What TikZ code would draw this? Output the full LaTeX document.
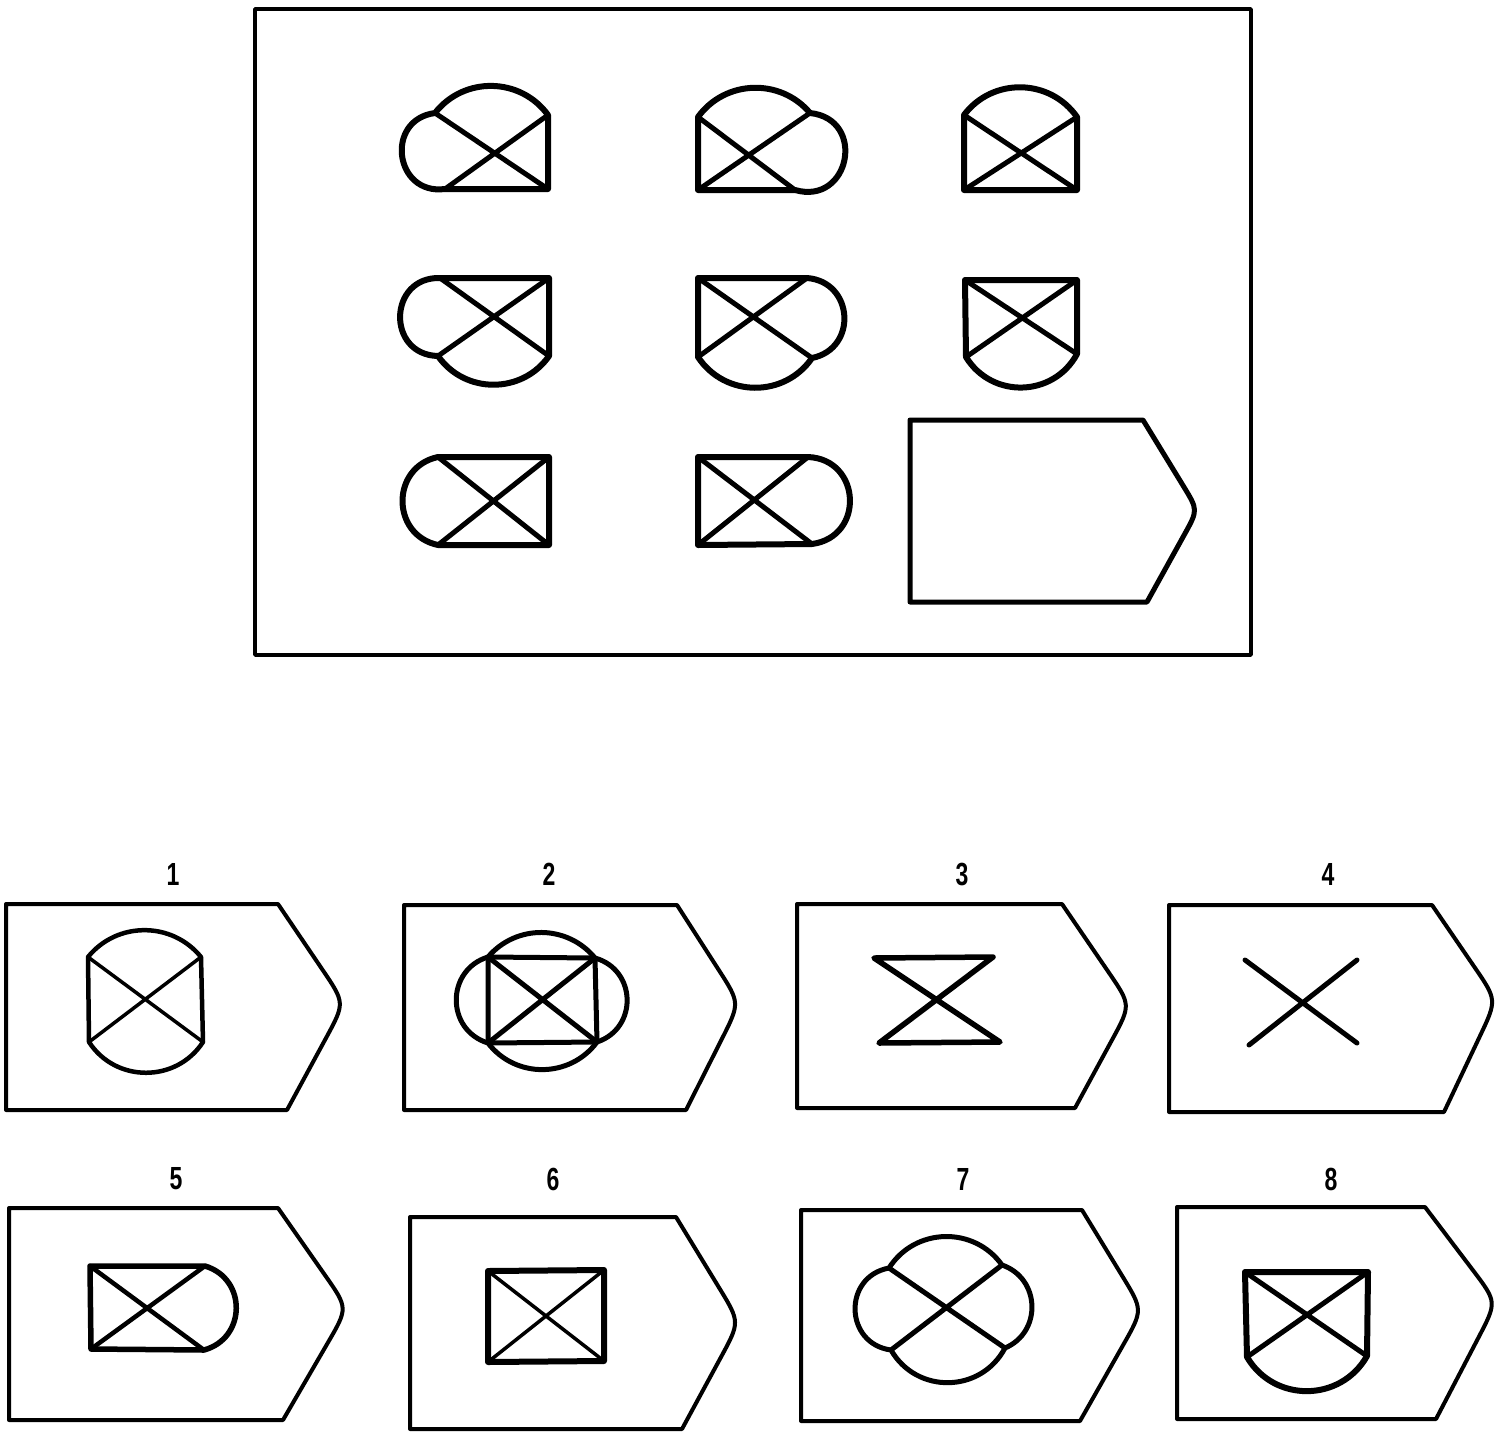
\documentclass[tikz,border=0pt]{standalone}
\usepackage{fontspec}
\usepackage{graphicx}
\setmainfont{Liberation Sans}
\usetikzlibrary{calc}
\tikzset{
  fig/.style={line width=6pt, line join=round, line cap=round},
  xline/.style={line width=5pt, line cap=round},
  frameline/.style={line width=3.5pt, line join=round},
  boxline/.style={line width=4pt, line join=round},
  optfig/.style={line width=5pt, line join=round, line cap=round},
  bump/.style 2 args={bend left=#1, looseness=#2},
  numlabel/.style={font=\bfseries\fontsize{32}{32}\selectfont, inner sep=0pt}
}
\newcommand{\optbox}[8]{%
  \coordinate (#1tl) at (#2,#3);
  \coordinate (#1tr) at (#4,#3);
  \coordinate (#1tip) at (#5,#6);
  \coordinate (#1br) at (#7,#8);
  \coordinate (#1bl) at (#2,#8);
  \draw[boxline] (#1tl) -- (#1tr) -- ($(#1tip)!40pt!(#1tr)$) .. controls (#1tip) .. ($(#1tip)!40pt!(#1br)$) -- (#1br) -- (#1bl) -- cycle;
}
\newcommand{\corners}[9]{%
  \coordinate (#1TL) at (#2,#3);
  \coordinate (#1TR) at (#4,#5);
  \coordinate (#1BR) at (#6,#7);
  \coordinate (#1BL) at (#8,#9);
}
\begin{document}
\begin{tikzpicture}[x=1pt,y=-1pt]
\useasboundingbox (0,0) rectangle (1500,1433);
\fill[white] (0,0) rectangle (1500,1433);

% outer frame
\draw[frameline] (255,9) rectangle (1251,655);

% ---- matrix ----
% A r1c1
\corners{A}{435}{113}{548}{115}{548}{189}{445}{189}
\draw[fig] (ATL) to[bump={53}{1.06}] (ATR) -- (ABR) -- (ABL) to[bump={90}{1.70}] (ATL);
\draw[xline] (ATL) -- (ABR) (ATR) -- (ABL);
% B r1c2
\corners{B}{698}{117}{810}{113}{795}{190}{698}{190}
\draw[fig] (BTL) to[bump={52}{1.05}] (BTR) to[bump={95}{1.87}] (BBR) -- (BBL) -- (BTL);
\draw[xline] (BTL) -- (BBR) (BTR) -- (BBL);
% C r1c3
\corners{C}{964}{115}{1077}{117}{1077}{190}{964}{190}
\draw[fig] (CTL) to[bump={54}{1.07}] (CTR) -- (CBR) -- (CBL) -- (CTL);
\draw[xline] (CTL) -- (CBR) (CTR) -- (CBL);
% D r2c1
\corners{D}{440}{278}{549}{278}{549}{356}{438}{356}
\draw[fig] (DTL) -- (DTR) -- (DBR) to[bump={55}{1.08}] (DBL) to[bump={90}{1.70}] (DTL);
\draw[xline] (DTL) -- (DBR) (DTR) -- (DBL);
% E r2c2
\corners{E}{698}{278}{807}{278}{812}{358}{698}{357}
\draw[fig] (ETL) -- (ETR) to[bump={82}{1.50}] (EBR) to[bump={56}{1.09}] (EBL) -- (ETL);
\draw[xline] (ETL) -- (EBR) (ETR) -- (EBL);
% F r2c3
\corners{F}{965}{280}{1077}{280}{1077}{354}{966}{357}
\draw[fig] (FTL) -- (FTR) -- (FBR) to[bump={60}{1.135}] (FBL) -- (FTL);
\draw[xline] (FTL) -- (FBR) (FTR) -- (FBL);
% G r3c1
\corners{G}{438}{457}{549}{457}{549}{545}{438}{545}
\draw[fig] (GTL) -- (GTR) -- (GBR) -- (GBL) to[bump={78}{1.41}] (GTL);
\draw[xline] (GTL) -- (GBR) (GTR) -- (GBL);
% H r3c2
\corners{H}{698}{457}{808}{457}{812}{544}{698}{545}
\draw[fig] (HTL) -- (HTR) to[bump={85}{1.57}] (HBR) -- (HBL) -- (HTL);
\draw[xline] (HTL) -- (HBR) (HTR) -- (HBL);
% answer slot
\coordinate (Stl) at (910,420);
\coordinate (Str) at (1143,420);
\coordinate (Stip) at (1198,510);
\coordinate (Sbr) at (1147,602);
\coordinate (Sbl) at (910,602);
\draw[line width=5pt, line join=round] (Stl) -- (Str) -- ($(Stip)!28pt!(Str)$) .. controls (Stip) .. ($(Stip)!28pt!(Sbr)$) -- (Sbr) -- (Sbl) -- cycle;

% ---- options ----
\node[numlabel] (n1) at (173,874) {\scalebox{0.72}[1]{1}};
\node[numlabel] (n2) at (549,874) {\scalebox{0.72}[1]{2}};
\node[numlabel] (n3) at (962,874) {\scalebox{0.72}[1]{3}};
\node[numlabel] (n4) at (1328,874) {\scalebox{0.72}[1]{4}};
\node[numlabel] (n5) at (176,1179) {\scalebox{0.72}[1]{5}};
\node[numlabel] (n6) at (553,1179) {\scalebox{0.72}[1]{6}};
\node[numlabel] (n7) at (963,1179) {\scalebox{0.72}[1]{7}};
\node[numlabel] (n8) at (1331,1179) {\scalebox{0.72}[1]{8}};

\optbox{b1}{6}{904}{278}{345}{1003}{287}{1110}
\optbox{b2}{404}{905}{677}{740}{1003}{686}{1110}
\optbox{b3}{797}{904}{1062}{1131}{1005}{1075}{1108}
\optbox{b4}{1169}{905}{1432}{1497}{1000}{1444}{1112}
\optbox{b5}{9}{1208}{278}{348}{1308}{283}{1420}
\optbox{b6}{410}{1217}{676}{740}{1322}{682}{1429}
\optbox{b7}{801}{1210}{1082}{1143}{1310}{1080}{1421}
\optbox{b8}{1177}{1207}{1425}{1497}{1302}{1436}{1419}

% option 1
\corners{O1}{88}{957}{201}{957}{203}{1042}{89}{1042}
\draw[optfig, line width=4.5pt] (O1TL) to[bump={51}{1.045}] (O1TR) -- (O1BR) to[bump={57}{1.10}] (O1BL) -- (O1TL);
\draw[optfig, line width=3.5pt] (O1TL) -- (O1BR) (O1TR) -- (O1BL);
% option 2
\corners{O2}{488}{957}{595}{958}{597}{1042}{488}{1043}
\draw[optfig] (O2TL) to[bump={50}{1.04}] (O2TR) to[bump={73}{1.32}] (O2BR) to[bump={53}{1.06}] (O2BL) to[bump={73}{1.32}] (O2TL);
\draw[optfig] (O2TL) -- (O2TR) -- (O2BR) -- (O2BL) -- cycle;
\draw[optfig] (O2TL) -- (O2BR) (O2TR) -- (O2BL);
% option 3
\corners{O3}{874}{958}{993}{957}{1000}{1042}{879}{1043}
\draw[optfig, line width=5.5pt] (O3TR) -- (O3TL) -- (O3BR) -- (O3BL) -- (O3TR);
% option 4
\corners{O4}{1245}{960}{1357}{960}{1357}{1043}{1249}{1045}
\draw[optfig] (O4TL) -- (O4BR) (O4TR) -- (O4BL);
% option 5
\corners{O5}{90}{1266}{205}{1266}{204}{1350}{91}{1349}
\draw[optfig, line width=5.5pt] (O5TL) -- (O5TR) to[bump={74}{1.34}] (O5BR) -- (O5BL) -- (O5TL);
\draw[optfig, line width=4.5pt] (O5TL) -- (O5BR) (O5TR) -- (O5BL);
% option 6
\corners{O6}{488}{1271}{604}{1270}{604}{1361}{488}{1362}
\draw[optfig, line width=6pt] (O6TL) -- (O6TR) -- (O6BR) -- (O6BL) -- cycle;
\draw[optfig, line width=3.5pt] (O6TL) -- (O6BR) (O6TR) -- (O6BL);
% option 7
\corners{O7}{889}{1268}{1002}{1265}{1005}{1348}{891}{1350}
\draw[optfig] (O7TL) to[bump={56}{1.09}] (O7TR) to[bump={69}{1.25}] (O7BR) to[bump={61}{1.15}] (O7BL) to[bump={81}{1.47}] (O7TL);
\draw[optfig] (O7TL) -- (O7BR) (O7TR) -- (O7BL);
% option 8
\corners{O8}{1245}{1272}{1368}{1272}{1367}{1356}{1247}{1357}
\draw[optfig, line width=6pt] (O8TL) -- (O8TR) -- (O8BR) to[bump={60}{1.135}] (O8BL) -- (O8TL);
\draw[optfig] (O8TL) -- (O8BR) (O8TR) -- (O8BL);
\end{tikzpicture}
\end{document}
